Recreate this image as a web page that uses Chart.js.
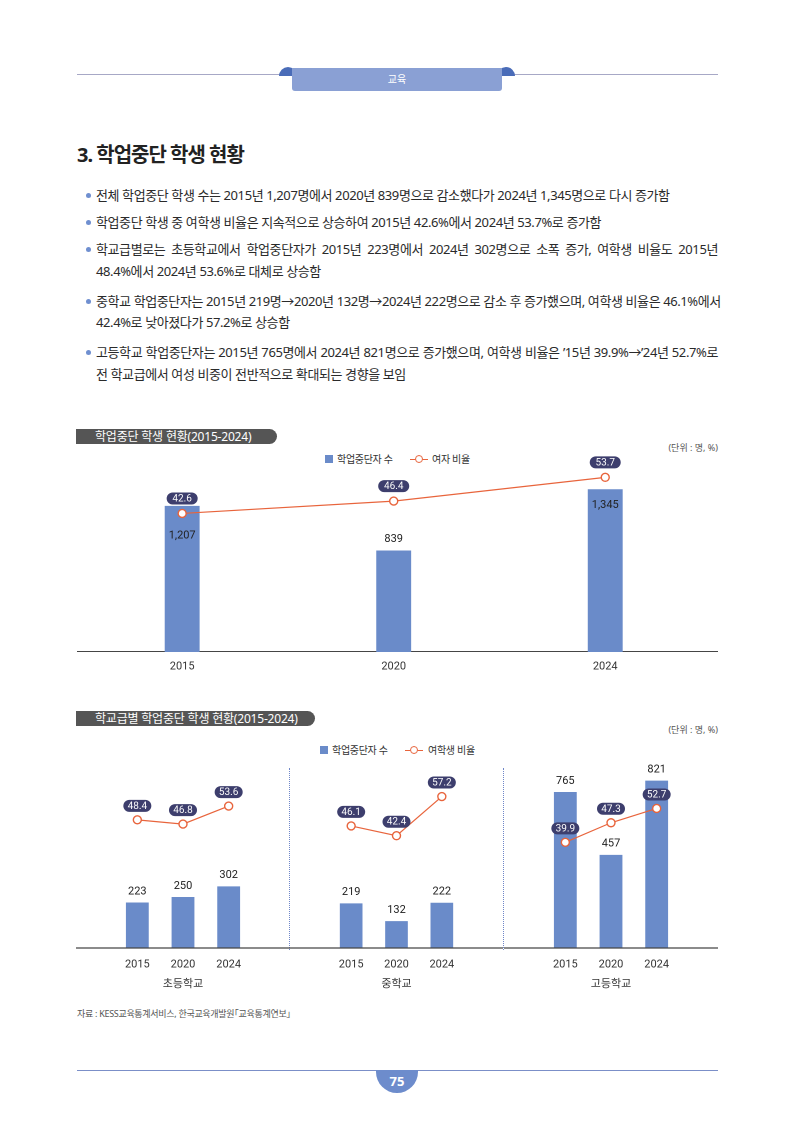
<!DOCTYPE html>
<html lang="ko">
<head>
<meta charset="utf-8">
<script src="https://cdn.jsdelivr.net/npm/chart.js@4.4.1/dist/chart.umd.min.js"></script>
<style>
  html,body{margin:0;padding:0;background:#fff;}
  body{width:794px;height:1123px;position:relative;overflow:hidden;font-family:"Noto Sans","Noto Sans CJK KR",sans-serif;color:#333;}
  .abs{position:absolute;}
  .hline{position:absolute;height:0;border-top:1.5px solid #a7a8c6;}
  .line{position:absolute;left:96px;width:622px;font-size:13px;letter-spacing:-0.4px;line-height:18px;white-space:nowrap;color:#2a2a2a;}
  .just{text-align:justify;text-align-last:justify;}
  .dot{position:absolute;left:86px;width:5px;height:5px;border-radius:50%;background:#6f8fd0;}
  .tbar{position:absolute;left:76px;height:15px;background:#555;border-radius:0 8px 8px 0;color:#fff;font-size:12px;line-height:15px;padding-left:19px;box-sizing:border-box;letter-spacing:-0.2px;}
  .unit{position:absolute;right:76px;font-size:9px;color:#555;line-height:12px;}
  .leg{position:absolute;font-size:10px;color:#333;line-height:12px;letter-spacing:-0.3px;}
  .sq{position:absolute;width:8px;height:8px;background:#6a8bc9;}
  .lg{position:absolute;width:18px;height:0;border-top:1.2px solid #e8643c;}
  .lgc{position:absolute;width:6px;height:6px;border:1.3px solid #e8643c;border-radius:50%;background:#fff;}
  .sep{position:absolute;width:0;border-left:1px dotted #6f86c8;}
  canvas{position:absolute;}
</style>
</head>
<body>
<!-- header -->
<div class="hline" style="left:77px;width:641px;top:74px;"></div>
<div class="abs" style="left:279px;top:67px;width:18px;height:9px;background:#4a6cb8;border-radius:9px 9px 0 0;"></div>
<div class="abs" style="left:497px;top:67px;width:18px;height:9px;background:#4a6cb8;border-radius:9px 9px 0 0;"></div>
<div class="abs" style="left:292px;top:68px;width:210px;height:23px;background:#8aa0d4;border-radius:0 0 3px 3px;color:#fff;font-size:10px;text-align:center;line-height:23px;">교육</div>

<!-- title -->
<div class="abs" style="left:77px;top:140px;font-size:20px;font-weight:700;letter-spacing:-1px;color:#222;line-height:30px;">3. 학업중단 학생 현황</div>

<!-- bullets -->
<div class="dot" style="top:193px;"></div>
<div class="line" style="top:186px;">전체 학업중단 학생 수는 2015년 1,207명에서 2020년 839명으로 감소했다가 2024년 1,345명으로 다시 증가함</div>
<div class="dot" style="top:220px;"></div>
<div class="line" style="top:213px;">학업중단 학생 중 여학생 비율은 지속적으로 상승하여 2015년 42.6%에서 2024년 53.7%로 증가함</div>
<div class="dot" style="top:247px;"></div>
<div class="line just" style="top:240px;">학교급별로는 초등학교에서 학업중단자가 2015년 223명에서 2024년 302명으로 소폭 증가, 여학생 비율도 2015년</div>
<div class="line" style="top:262px;">48.4%에서 2024년 53.6%로 대체로 상승함</div>
<div class="dot" style="top:299px;"></div>
<div class="line just" style="top:292px;">중학교 학업중단자는 2015년 219명→2020년 132명→2024년 222명으로 감소 후 증가했으며, 여학생 비율은 46.1%에서</div>
<div class="line" style="top:313px;">42.4%로 낮아졌다가 57.2%로 상승함</div>
<div class="dot" style="top:350px;"></div>
<div class="line just" style="top:343px;">고등학교 학업중단자는 2015년 765명에서 2024년 821명으로 증가했으며, 여학생 비율은 ’15년 39.9%→’24년 52.7%로</div>
<div class="line" style="top:365px;">전 학교급에서 여성 비중이 전반적으로 확대되는 경향을 보임</div>

<!-- chart 1 header -->
<div class="tbar" style="top:429px;width:201px;">학업중단 학생 현황(2015-2024)</div>
<div class="unit" style="top:442px;">(단위 : 명, %)</div>
<div class="sq" style="left:325px;top:455px;"></div>
<div class="leg" style="left:337px;top:453px;">학업중단자 수</div>
<div class="lg" style="left:410px;top:459px;"></div>
<div class="lgc" style="left:415px;top:455px;"></div>
<div class="leg" style="left:432px;top:453px;">여자 비율</div>
<div class="abs" style="left:77px;top:651px;width:641px;height:0;border-top:1.3px solid #454545;"></div>
<canvas id="c1" width="647" height="237" style="left:71px;top:445px;width:647px;height:237px;"></canvas>

<!-- chart 2 header -->
<div class="tbar" style="top:711px;width:239px;">학교급별 학업중단 학생 현황(2015-2024)</div>
<div class="unit" style="top:724px;">(단위 : 명, %)</div>
<div class="sq" style="left:320px;top:746px;"></div>
<div class="leg" style="left:332px;top:744px;">학업중단자 수</div>
<div class="lg" style="left:405px;top:750px;"></div>
<div class="lgc" style="left:410px;top:746px;"></div>
<div class="leg" style="left:428px;top:744px;">여학생 비율</div>
<div class="sep" style="left:289px;top:768px;height:182px;"></div>
<div class="sep" style="left:503px;top:768px;height:182px;"></div>
<canvas id="c2a" width="214" height="251" style="left:76px;top:740px;width:214px;height:251px;"></canvas>
<canvas id="c2b" width="213" height="251" style="left:290px;top:740px;width:213px;height:251px;"></canvas>
<canvas id="c2c" width="214" height="251" style="left:504px;top:740px;width:214px;height:251px;"></canvas>

<div class="abs" style="left:77px;top:1008px;font-size:9px;color:#555;letter-spacing:-0.3px;line-height:12px;">자료 : KESS교육통계서비스, 한국교육개발원｢교육통계연보｣</div>

<!-- footer -->
<div class="abs" style="left:77px;top:1070px;width:641px;height:0;border-top:1px solid #7b8fc8;"></div>
<div class="abs" style="left:376px;top:1070px;width:42px;height:23px;background:#6d8ccc;border-radius:0 0 21px 21px;color:#fff;font-size:13px;font-weight:700;text-align:center;line-height:22px;">75</div>

<script>
// ---- data ----
const years = ['2015', '2020', '2024'];
const totalDropouts = [1207, 839, 1345];
const totalFemaleRate = [42.6, 46.4, 53.7];

const schoolLevels = ['초등학교', '중학교', '고등학교'];
const elemDropouts = [223, 250, 302];
const elemFemaleRate = [48.4, 46.8, 53.6];
const middleDropouts = [219, 132, 222];
const middleFemaleRate = [46.1, 42.4, 57.2];
const highDropouts = [765, 457, 821];
const highFemaleRate = [39.9, 47.3, 52.7];

// ---- styling ----
const BAR = '#6a8bc9';
const LINE = '#e8643c';
const PILL = '#3d3e6d';
const NUMFONT = '"Liberation Sans Narrow","Roboto","Noto Sans",sans-serif';
const KRFONT = '"Noto Sans","Noto Sans CJK KR",sans-serif';

function roundRect(ctx, x, y, w, h, r) {
  ctx.beginPath();
  ctx.moveTo(x + r, y);
  ctx.lineTo(x + w - r, y);
  ctx.arc(x + w - r, y + r, r, -Math.PI / 2, Math.PI / 2);
  ctx.lineTo(x + r, y + h);
  ctx.arc(x + r, y + r, r, Math.PI / 2, Math.PI * 1.5);
  ctx.closePath();
}

const labelPlugin = {
  id: 'valueLabels',
  afterDatasetsDraw(chart, args, opts) {
    const ctx = chart.ctx;
    const yb = chart.scales.y.getPixelForValue(0);
    ctx.save();
    if (opts.baseline) {
      ctx.strokeStyle = '#454545';
      ctx.lineWidth = 1.3;
      ctx.beginPath();
      ctx.moveTo(0, yb);
      ctx.lineTo(chart.width, yb);
      ctx.stroke();
    }
    ctx.textAlign = 'center';
    ctx.textBaseline = 'middle';
    const bm = chart.getDatasetMeta(0);
    bm.data.forEach((el, i) => {
      const v = chart.data.datasets[0].data[i];
      const off = opts.barOffsets[i];
      ctx.fillStyle = '#222';
      ctx.font = opts.barFont + ' ' + NUMFONT;
      ctx.fillText(v.toLocaleString('en-US'), el.x, el.y + off);
    });
    const lm = chart.getDatasetMeta(1);
    lm.data.forEach((el, i) => {
      const v = chart.data.datasets[1].data[i];
      const txt = v.toFixed(1);
      const cy = el.y - opts.pillOffset;
      const w = opts.pillW, h = opts.pillH;
      ctx.fillStyle = PILL;
      roundRect(ctx, el.x - w / 2, cy - h / 2, w, h, h / 2);
      ctx.fill();
      ctx.fillStyle = '#fff';
      ctx.font = opts.pillFont + ' ' + NUMFONT;
      ctx.fillText(txt, el.x, cy + 0.5);
    });
    ctx.restore();
  }
};

function makeChart(id, labels, bars, rates, cfg) {
  return new Chart(document.getElementById(id), {
    type: 'bar',
    data: {
      labels: labels,
      datasets: [
        { type: 'bar', data: bars, backgroundColor: BAR, borderWidth: 0, yAxisID: 'y', order: 2,
          barPercentage: cfg.barPct, categoryPercentage: 1 },
        { type: 'line', data: rates, yAxisID: 'y1', order: 1, borderColor: LINE, borderWidth: 1.2,
          pointRadius: 4, pointBorderWidth: 1.4, pointBackgroundColor: '#fff', pointBorderColor: LINE,
          tension: 0, fill: false }
      ]
    },
    options: {
      responsive: false,
      animation: false,
      devicePixelRatio: 2,
      layout: { padding: cfg.padding },
      plugins: {
        legend: { display: false },
        tooltip: { enabled: false },
        valueLabels: cfg.labels
      },
      scales: {
        x: {
          grid: { display: false, drawTicks: false },
          border: { display: false },
          ticks: { color: '#333', font: { size: 11, family: NUMFONT }, padding: cfg.tickPad, maxRotation: 0 },
          title: cfg.title
        },
        y: { display: false, min: 0, max: cfg.barMax },
        y1: { display: false, min: 0, max: cfg.rateMax }
      }
    },
    plugins: [labelPlugin]
  });
}

// chart 1
makeChart('c1', years, totalDropouts, totalFemaleRate, {
  barPct: 0.165,
  padding: { top: 20, bottom: 0.8, left: 0, right: 7 },
  tickPad: 8,
  title: { display: false },
  barMax: 1545, rateMax: 57.5,
  labels: { baseline: false, barOffsets: [30, -11, 16], barFont: '11px', pillOffset: 15, pillW: 31, pillH: 12, pillFont: '10px' }
});

// chart 2 (three school levels)
const groupCfg = (name) => ({
  barPct: 0.5,
  padding: { top: 20, bottom: 0.6, left: 38.5, right: 38.5 },
  tickPad: 10,
  title: { display: true, text: name, color: '#333', font: { size: 11, family: KRFONT }, padding: { top: -4, bottom: 0 } },
  barMax: 922, rateMax: 71,
  labels: { baseline: true, barOffsets: [-11, -11, -11], barFont: '11px', pillOffset: 14, pillW: 28, pillH: 12, pillFont: '10px' }
});
makeChart('c2a', years, elemDropouts, elemFemaleRate, groupCfg(schoolLevels[0]));
makeChart('c2b', years, middleDropouts, middleFemaleRate, groupCfg(schoolLevels[1]));
makeChart('c2c', years, highDropouts, highFemaleRate, groupCfg(schoolLevels[2]));
</script>
</body>
</html>
